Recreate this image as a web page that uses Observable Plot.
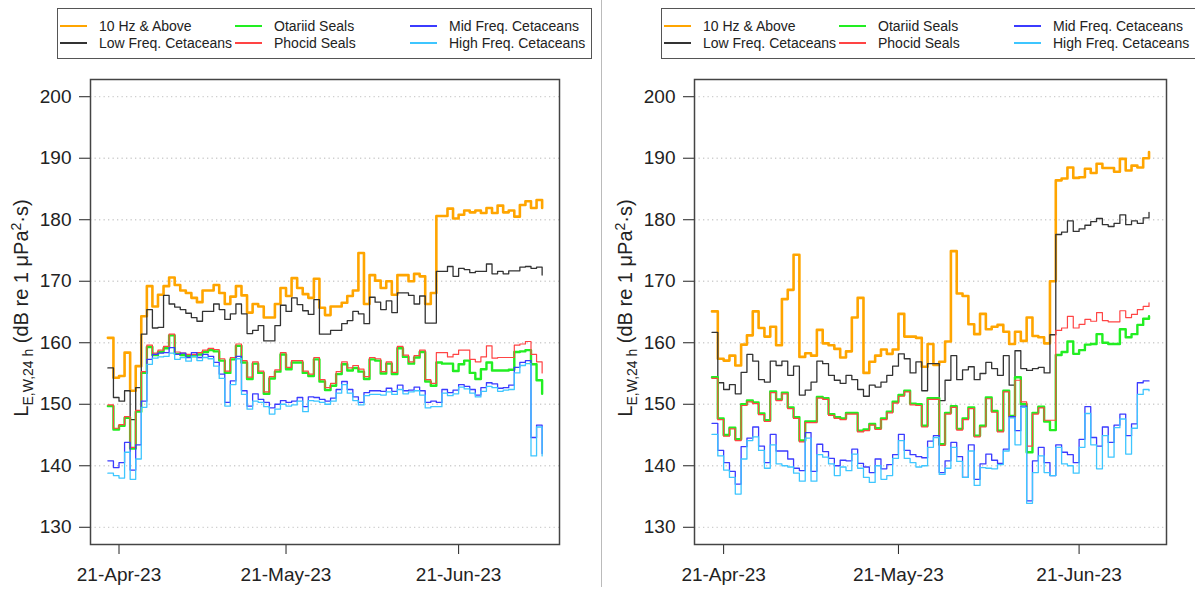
<!DOCTYPE html>
<html><head><meta charset="utf-8">
<script src="https://cdn.jsdelivr.net/npm/d3@7"></script>
<script src="https://cdn.jsdelivr.net/npm/@observablehq/plot@0.6"></script>
<style>
body{margin:0;background:#fff;font-family:"Liberation Sans",Arial,sans-serif;}
#root{position:relative;width:1195px;height:592px;overflow:hidden;background:#fff;}
.panel{position:absolute;top:0;height:592px;}
.legend{position:absolute;left:57px;top:8px;width:535px;height:51px;border:1.5px solid #555;box-sizing:border-box;background:#fff;z-index:2;}
.item{position:absolute;font-size:14px;color:#222;line-height:16px;white-space:nowrap;}
.sw{position:absolute;height:0;width:27px;border-top:2.5px solid;}
#sep{position:absolute;left:601px;top:0;width:1px;height:587px;background:#bbb;}
</style></head>
<body><div id="root"><div id="sep"></div></div>
<script>
// ---- series metadata ----
const seriesNames = ["10 Hz & Above","Low Freq. Cetaceans","Otariid Seals","Phocid Seals","Mid Freq. Cetaceans","High Freq. Cetaceans"];
const seriesColors = ["#FFA500","#333333","#22EE22","#FF4444","#3B3BFF","#3EC6FF"];
const startDate = "2023-04-19"; // first daily value in both panels
const xTickDates = ["2023-04-21","2023-05-21","2023-06-21"];
const yTicks = [130,140,150,160,170,180,190,200];

// ---- left panel (19-Apr-23 .. 06-Jul-23, daily) ----
const leftOrange = [160.8,154.3,154.6,158.4,152.2,156.2,164.3,169.2,165.9,167.8,
169.2,170.6,169.4,168.5,168.1,167.3,166.6,168.5,168.5,169.4,
168.1,166.3,167.5,169.2,167.7,164.9,166.3,165.9,164.1,164.1,
166.3,168.9,167.6,170.5,168.9,167.9,167.3,170.4,165.7,164.5,
165.9,165.9,166.5,167.6,168.5,174.6,166.3,171.0,170.1,168.9,
170.0,167.8,171.0,171.0,170.0,171.2,170.8,166.3,168.1,180.6,
180.6,181.8,180.2,180.8,181.5,181.2,181.5,181.1,181.9,181.1,
182.3,181.2,181.5,180.5,182.4,183.0,181.9,183.2,181.9];
const leftBlack = [155.9,151.1,150.5,152.2,147.5,152.7,161.4,165.4,162.4,162.5,
167.7,166.3,165.8,165.4,164.8,164.1,163.5,165.1,165.1,166.3,
165.4,163.8,164.7,166.3,164.7,161.5,162.0,162.8,160.3,160.3,
162.8,166.1,165.1,167.3,166.2,165.2,164.6,167.0,161.4,161.4,
162.0,162.0,163.1,163.6,165.1,164.7,163.1,167.4,166.6,165.4,
166.8,164.9,168.1,168.1,167.7,166.3,167.6,163.2,163.2,171.6,
171.6,172.4,170.8,172.1,171.9,171.4,171.6,171.6,172.8,171.2,
171.6,171.2,171.7,171.7,172.3,172.4,172.1,172.3,171.0];
const leftGreen = [149.7,145.9,146.5,147.8,142.8,148.8,155.1,159.3,158.0,158.5,
159.1,161.2,158.2,158.0,157.8,157.8,158.1,158.5,158.8,158.6,
157.1,155.1,157.3,159.5,156.8,154.1,156.6,155.1,151.7,154.2,
155.3,158.1,155.7,156.8,156.8,155.1,154.6,157.3,153.7,152.3,
153.0,154.9,156.5,155.5,155.9,155.3,154.1,157.3,157.1,155.0,
156.6,154.9,159.1,157.7,156.6,157.6,158.5,153.7,153.0,156.8,
156.6,156.6,155.4,156.5,157.1,155.1,154.1,155.7,156.8,155.5,
155.5,155.5,155.6,158.5,158.6,158.8,156.5,153.9,151.7];
const leftRed = [149.9,146.1,146.7,148.0,143.0,149.0,155.3,159.6,158.3,158.8,
159.4,161.4,158.5,158.3,158.1,158.1,158.4,158.8,159.1,158.9,
157.4,155.4,157.6,159.8,157.1,154.4,156.9,155.4,152.0,154.5,
155.6,158.4,156.0,157.1,157.1,155.4,154.9,157.6,154.0,152.7,
153.4,155.3,156.9,155.9,156.3,155.7,154.5,157.6,157.4,155.3,
156.9,155.2,159.4,158.0,156.9,157.9,158.8,154.0,153.4,158.4,
158.4,157.7,158.1,158.8,158.8,157.3,156.9,157.7,159.5,157.5,
157.6,157.6,157.6,159.6,159.8,160.2,158.1,156.9,155.1];
const leftBlue = [140.8,139.7,140.5,143.8,139.3,143.4,150.5,157.3,158.1,158.3,
158.4,159.2,158.1,158.3,157.6,158.4,157.6,158.1,157.8,156.8,
154.9,150.3,153.8,157.8,152.2,149.7,151.7,150.8,150.3,149.4,
150.0,150.6,150.3,150.5,151.1,149.6,151.2,151.1,150.8,150.5,
151.0,152.4,153.7,152.4,151.2,150.3,151.9,152.2,152.2,152.1,
152.6,152.1,153.1,152.2,152.3,152.8,152.2,150.3,150.5,150.3,
152.4,151.9,152.3,153.2,152.9,152.4,151.5,152.7,153.5,153.3,
152.6,152.7,153.1,156.0,156.8,157.1,144.6,146.6,142.0];
const leftCyan = [138.8,138.4,138.0,142.2,137.8,141.1,149.5,156.5,157.5,157.7,
157.8,158.3,157.3,157.6,157.0,157.8,157.1,157.6,157.4,156.2,
154.2,149.7,153.2,157.4,151.6,149.2,150.5,150.3,149.6,148.4,
149.2,150.0,149.7,149.9,150.5,148.8,150.6,150.5,150.3,150.0,
150.5,151.8,153.2,151.8,150.6,149.9,151.4,151.6,151.6,151.5,
152.0,151.6,152.4,151.7,152.0,152.2,151.5,149.4,149.6,149.6,
151.8,151.4,151.7,152.8,152.5,151.8,151.2,152.1,152.9,152.7,
152.1,152.3,152.4,155.1,156.3,156.6,141.6,146.3,141.6];

// ---- right panel (19-Apr-23 .. 03-Jul-23, daily) ----
const rightOrange = [165.1,157.4,157.1,157.9,156.3,159.7,161.2,165.1,162.4,161.0,
162.6,159.6,167.1,168.6,174.3,157.7,158.3,157.9,162.1,159.9,
159.6,159.0,157.6,158.6,164.1,167.3,155.1,156.9,157.9,158.9,
158.2,158.9,164.7,161.0,161.0,160.8,156.1,159.8,156.4,156.9,
160.2,174.9,168.0,167.6,163.0,161.4,164.7,162.2,162.6,162.9,
161.8,159.8,161.8,160.3,164.1,161.1,160.9,159.9,170.0,186.4,
186.7,188.5,186.8,186.9,188.3,187.6,189.1,188.4,188.4,187.8,
189.9,188.0,188.8,188.5,190.0,191.0];
const rightBlack = [161.7,153.5,152.4,153.2,151.7,155.2,158.1,157.0,154.0,153.6,
157.0,156.3,157.0,154.7,156.2,151.5,152.3,153.6,157.0,156.6,
154.7,153.9,153.4,154.7,154.0,152.4,151.3,153.1,152.8,153.6,
154.7,156.2,158.2,157.4,155.1,156.9,152.2,156.6,156.6,150.6,
153.9,157.9,154.0,155.6,156.1,154.0,155.0,156.8,155.8,154.7,
157.9,153.1,158.7,155.8,155.5,155.8,156.0,155.1,161.3,177.6,
178.0,179.8,178.1,178.5,179.1,179.7,180.2,179.2,178.9,179.4,
180.8,179.2,179.8,179.4,180.3,181.2];
const rightGreen = [154.4,147.7,145.0,146.2,144.3,150.0,150.6,150.3,148.5,147.4,
152.1,150.8,151.9,149.5,147.9,144.1,147.2,147.2,151.2,151.0,
148.4,147.9,147.7,148.6,148.6,145.7,145.9,146.8,146.1,147.7,
148.8,150.4,151.5,152.2,150.1,150.0,146.5,151.0,151.0,143.5,
148.6,149.7,146.0,147.7,149.5,144.9,146.5,151.1,148.9,145.7,
152.2,148.1,154.4,150.0,142.2,148.6,149.6,147.2,145.8,158.0,
158.5,160.2,158.2,158.8,159.7,159.8,161.4,160.0,159.8,159.8,
162.2,160.9,161.4,162.9,163.9,164.3];
const rightRed = [154.2,147.5,144.8,146.0,144.1,149.8,150.4,150.1,148.3,147.2,
151.9,150.6,151.7,149.3,147.7,143.9,147.0,147.0,151.0,150.8,
148.2,147.7,147.5,148.4,148.4,145.5,145.7,146.6,145.9,147.5,
148.6,150.2,151.3,152.0,149.9,149.8,146.3,150.8,150.8,143.3,
148.4,149.5,145.8,147.5,149.3,144.7,146.3,150.9,148.7,145.5,
152.0,147.9,153.9,150.4,143.2,148.4,149.4,147.4,147.4,162.0,
162.4,164.3,162.4,163.0,163.8,163.5,164.9,163.6,163.4,163.4,
165.2,164.1,164.6,165.4,165.9,166.5];
const rightBlue = [146.9,142.5,140.5,139.1,137.0,143.1,144.5,146.3,143.2,140.5,
145.1,142.4,142.4,141.1,139.6,139.2,145.4,139.1,143.5,142.3,
141.2,140.0,140.9,140.8,142.7,140.4,139.8,138.9,141.1,139.5,
140.2,141.8,145.1,142.5,141.8,141.5,141.3,144.0,144.9,138.9,
140.8,143.8,141.5,138.1,143.4,137.8,140.3,141.9,140.9,140.4,
142.7,148.0,145.7,149.7,134.3,140.8,143.0,140.5,138.4,143.4,
142.2,141.8,140.5,144.3,149.6,144.6,143.2,146.3,143.8,146.6,
148.4,144.9,146.8,153.5,153.8,153.8];
const rightCyan = [145.1,141.6,139.3,138.1,135.4,141.1,144.1,144.7,142.5,139.6,
143.4,140.3,140.0,139.8,138.8,137.5,144.5,137.5,141.8,141.4,
140.3,138.4,139.8,139.2,141.9,139.6,138.1,137.3,140.0,137.8,
138.4,141.2,144.1,141.2,140.5,139.8,140.0,143.0,144.6,138.6,
139.6,143.0,140.7,138.1,142.4,136.8,139.7,139.6,139.5,140.2,
142.4,147.8,143.4,149.5,133.9,138.9,141.6,138.9,138.4,143.0,
140.3,140.0,138.8,143.0,148.5,143.4,139.5,144.9,141.4,146.2,
147.6,141.9,146.1,151.6,152.4,152.2];

const leftSeries = [leftOrange,leftBlack,leftGreen,leftRed,leftBlue,leftCyan];
const rightSeries = [rightOrange,rightBlack,rightGreen,rightRed,rightBlue,rightCyan];
const lineWidths = [2.6,1.3,2.4,1.2,1.3,1.3];
const drawOrder = [0,1,2,3,4,5]; // thin red drawn over the thicker green

const DAY = 864e5;
const t0 = Date.parse(startDate + "T00:00:00Z");
const fmt = d3.utcFormat("%d-%b-%y");

function makePanel(left, width, marginRight, seriesVals) {
  const root = document.getElementById("root");
  const panel = document.createElement("div");
  panel.className = "panel";
  panel.style.left = left + "px";
  panel.style.width = width + "px";
  root.appendChild(panel);

  const n = seriesVals[0].length;
  const pad = 0.04 * (n - 1);
  const marks = [Plot.ruleY(yTicks, {stroke: "#cfcfcf", strokeWidth: 1.3, strokeDasharray: "1.3,3.2"})];
  drawOrder.forEach(k => {
    const data = seriesVals[k].map((v, i) => ({date: new Date(t0 + i * DAY), v}));
    marks.push(Plot.line(data, {x: "date", y: "v", curve: "step-after", stroke: seriesColors[k], strokeWidth: lineWidths[k]}));
  });
  marks.push(Plot.frame({stroke: "#444", strokeWidth: 1.5}));

  const svg = Plot.plot({
    width, height: 592,
    marginLeft: 90, marginRight, marginTop: 79, marginBottom: 48,
    style: {fontFamily: '"Liberation Sans", Arial, sans-serif', fontSize: "19px", color: "#222", background: "transparent", overflow: "visible"},
    x: {type: "utc", domain: [new Date(t0 - pad * DAY), new Date(t0 + (n - 1 + pad) * DAY)],
        ticks: xTickDates.map(s => new Date(s + "T00:00:00Z")), tickFormat: fmt,
        tickSize: 10, tickPadding: 13, label: null},
    y: {domain: [127.2, 202.8], ticks: yTicks, tickSize: 11, tickPadding: 8, label: null},
    marks
  });
  svg.style.position = "absolute";
  svg.style.left = "0px";
  svg.style.top = "0px";
  panel.appendChild(svg);

  // y-axis title with subscript / superscript
  const t = d3.select(svg).append("text")
    .attr("transform", "translate(28,308) rotate(-90)")
    .attr("text-anchor", "middle")
    .attr("fill", "#222")
    .style("font-size", "20px");
  t.append("tspan").text("L");
  t.append("tspan").attr("dy", 5).style("font-size", "14px").text("E,W,24 h");
  t.append("tspan").attr("dy", -5).text(" (dB re 1 μPa");
  t.append("tspan").attr("dy", -7).style("font-size", "14px").text("2");
  t.append("tspan").attr("dy", 7).text("·s)");

  // legend
  const lg = document.createElement("div");
  lg.className = "legend";
  panel.appendChild(lg);
  const colX = [2, 177, 352], textX = [41, 216, 391], rowY = [17, 34];
  const order = [[0,0],[1,0],[2,1],[3,1],[4,2],[5,2]]; // [series index, column]
  order.forEach(([k, c], j) => {
    const r = j % 2;
    const sw = document.createElement("div");
    sw.className = "sw";
    sw.style.left = colX[c] + "px";
    sw.style.top = (rowY[r] - 1) + "px";
    sw.style.borderTopColor = seriesColors[k];
    lg.appendChild(sw);
    const tx = document.createElement("div");
    tx.className = "item";
    tx.style.left = textX[c] + "px";
    tx.style.top = (rowY[r] - 8) + "px";
    tx.textContent = seriesNames[k];
    lg.appendChild(tx);
  });
}

makePanel(0, 590, 31, leftSeries);
makePanel(604, 591, 29, rightSeries);
</script>
</body></html>
